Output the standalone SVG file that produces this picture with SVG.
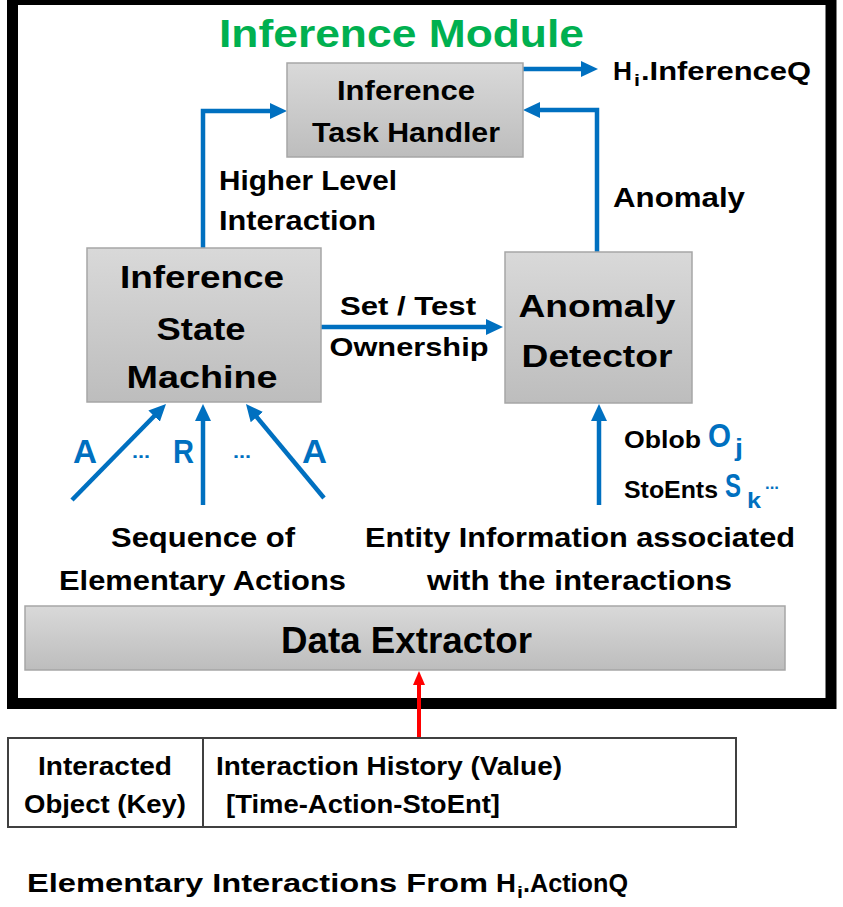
<svg xmlns="http://www.w3.org/2000/svg" width="843" height="907" viewBox="0 0 843 907">
<style>
text{font-family:"Liberation Sans",Arial,sans-serif;font-weight:bold;fill:#000}
.blue{fill:#0070C0}
.box{fill:url(#g);stroke:#a6a6a6;stroke-width:1.5}
.c{fill:none;stroke:#0070C0;stroke-width:4.5}
</style>
<defs>
<linearGradient id="g" x1="0" y1="0" x2="0" y2="1">
<stop offset="0" stop-color="#d9d9d9"/>
<stop offset="1" stop-color="#bdbdbd"/>
</linearGradient>
<marker id="ab" markerUnits="userSpaceOnUse" markerWidth="18" markerHeight="16" refX="9" refY="8" orient="auto">
<path d="M0,0 L17,8 L0,16 Z" fill="#0070C0"/>
</marker>
<marker id="ar" markerUnits="userSpaceOnUse" markerWidth="14" markerHeight="12" refX="7" refY="6" orient="auto">
<path d="M0,0 L14,6 L0,12 Z" fill="#ff0000"/>
</marker>
</defs>
<rect width="843" height="907" fill="#fff"/>
<rect x="12.5" y="-0.5" width="818.5" height="704" fill="none" stroke="#000" stroke-width="11"/>
<text x="219" y="47" font-size="38" textLength="365" lengthAdjust="spacingAndGlyphs" style="fill:#00B050">Inference Module</text>

<g id="connectors">
<line class="c" x1="523" y1="69" x2="590" y2="69" marker-end="url(#ab)"/>
<polyline class="c" points="203,248 203,111 279,111" marker-end="url(#ab)"/>
<polyline class="c" points="597,252 597,110 531,110" marker-end="url(#ab)"/>
<line class="c" x1="321" y1="327" x2="495" y2="327" marker-end="url(#ab)"/>
<line class="c" x1="72" y1="500" x2="160.4" y2="409.7" marker-end="url(#ab)"/>
<line class="c" x1="203" y1="505" x2="203" y2="412" marker-end="url(#ab)"/>
<line class="c" x1="324" y1="498" x2="251.1" y2="410.2" marker-end="url(#ab)"/>
<line class="c" x1="599" y1="505" x2="599" y2="412" marker-end="url(#ab)"/>
<line x1="419" y1="738" x2="419" y2="678" stroke="#ff0000" stroke-width="4" marker-end="url(#ar)"/>
</g>

<g id="task-handler">
<rect class="box" x="287" y="63" width="236" height="94"/>
<text x="406" y="100" font-size="28" text-anchor="middle" textLength="138" lengthAdjust="spacingAndGlyphs">Inference</text>
<text x="406" y="142" font-size="28" text-anchor="middle" textLength="188" lengthAdjust="spacingAndGlyphs">Task Handler</text>
</g>

<g id="inferenceq">
<text x="613" y="80" font-size="26" textLength="19" lengthAdjust="spacingAndGlyphs">H</text>
<text x="634" y="86" font-size="16" textLength="6" lengthAdjust="spacingAndGlyphs">i</text>
<text x="641" y="80" font-size="26" textLength="170" lengthAdjust="spacingAndGlyphs">.InferenceQ</text>
</g>

<g id="labels-top">
<text x="219" y="190" font-size="27" textLength="178" lengthAdjust="spacingAndGlyphs">Higher Level</text>
<text x="219" y="230" font-size="27" textLength="157" lengthAdjust="spacingAndGlyphs">Interaction</text>
<text x="613" y="207" font-size="27" textLength="132" lengthAdjust="spacingAndGlyphs">Anomaly</text>
</g>

<g id="state-machine">
<rect class="box" x="87" y="248" width="234" height="154"/>
<text x="202" y="288" font-size="31" text-anchor="middle" textLength="164" lengthAdjust="spacingAndGlyphs">Inference</text>
<text x="201" y="340" font-size="31" text-anchor="middle" textLength="89" lengthAdjust="spacingAndGlyphs">State</text>
<text x="202" y="388" font-size="31" text-anchor="middle" textLength="151" lengthAdjust="spacingAndGlyphs">Machine</text>
</g>

<g id="anomaly-detector">
<rect class="box" x="505" y="252" width="187" height="151"/>
<text x="597" y="317" font-size="31" text-anchor="middle" textLength="157" lengthAdjust="spacingAndGlyphs">Anomaly</text>
<text x="597" y="367" font-size="31" text-anchor="middle" textLength="151" lengthAdjust="spacingAndGlyphs">Detector</text>
</g>

<g id="set-test-label">
<text x="408" y="315" font-size="26" text-anchor="middle" textLength="136" lengthAdjust="spacingAndGlyphs">Set / Test</text>
<text x="409" y="356" font-size="26" text-anchor="middle" textLength="159" lengthAdjust="spacingAndGlyphs">Ownership</text>
</g>

<g id="action-labels">
<text class="blue" x="73" y="463" font-size="34" textLength="24" lengthAdjust="spacingAndGlyphs">A</text>
<text class="blue" x="132" y="458" font-size="18" textLength="18" lengthAdjust="spacingAndGlyphs">...</text>
<text class="blue" x="173" y="463" font-size="34" textLength="21" lengthAdjust="spacingAndGlyphs">R</text>
<text class="blue" x="233" y="458" font-size="18" textLength="18" lengthAdjust="spacingAndGlyphs">...</text>
<text class="blue" x="302" y="463" font-size="34" textLength="25" lengthAdjust="spacingAndGlyphs">A</text>
</g>

<g id="entity-labels">
<text x="624" y="448" font-size="24" textLength="77" lengthAdjust="spacingAndGlyphs">Oblob</text>
<text class="blue" x="708" y="447" font-size="33" textLength="23" lengthAdjust="spacingAndGlyphs">O</text>
<text class="blue" x="735" y="456" font-size="24" textLength="8" lengthAdjust="spacingAndGlyphs">j</text>
<text x="624" y="498" font-size="24" textLength="94" lengthAdjust="spacingAndGlyphs">StoEnts</text>
<text class="blue" x="725" y="497" font-size="33" textLength="16" lengthAdjust="spacingAndGlyphs">S</text>
<text class="blue" x="747" y="508" font-size="22" textLength="14" lengthAdjust="spacingAndGlyphs">k</text>
<text class="blue" x="765" y="489" font-size="16" textLength="14" lengthAdjust="spacingAndGlyphs">...</text>
</g>

<g id="sequence-label">
<text x="111" y="547" font-size="28" textLength="184" lengthAdjust="spacingAndGlyphs">Sequence of</text>
<text x="59" y="590" font-size="28" textLength="287" lengthAdjust="spacingAndGlyphs">Elementary Actions</text>
</g>

<g id="entity-info-label">
<text x="365" y="547" font-size="28" textLength="430" lengthAdjust="spacingAndGlyphs">Entity Information associated</text>
<text x="427" y="590" font-size="28" textLength="305" lengthAdjust="spacingAndGlyphs">with the interactions</text>
</g>

<g id="data-extractor">
<rect class="box" x="25" y="606" width="760" height="64"/>
<text x="281" y="653" font-size="36" textLength="251" lengthAdjust="spacingAndGlyphs">Data Extractor</text>
</g>

<g id="history-table">
<rect x="8" y="738" width="728" height="89" fill="#fff" stroke="#404040" stroke-width="2"/>
<line x1="203" y1="738" x2="203" y2="827" stroke="#404040" stroke-width="2"/>
<text x="38" y="775" font-size="25" textLength="134" lengthAdjust="spacingAndGlyphs">Interacted</text>
<text x="24" y="813" font-size="25" textLength="162" lengthAdjust="spacingAndGlyphs">Object (Key)</text>
<text x="216" y="775" font-size="25" textLength="346" lengthAdjust="spacingAndGlyphs">Interaction History (Value)</text>
<text x="226" y="813" font-size="25" textLength="274" lengthAdjust="spacingAndGlyphs">[Time-Action-StoEnt]</text>
</g>

<g id="caption">
<text x="27" y="892" font-size="26" textLength="461" lengthAdjust="spacingAndGlyphs">Elementary Interactions From</text>
<text x="496" y="892" font-size="26" textLength="20" lengthAdjust="spacingAndGlyphs">H</text>
<text x="517" y="898" font-size="16" textLength="6" lengthAdjust="spacingAndGlyphs">i</text>
<text x="523" y="892" font-size="26" textLength="105" lengthAdjust="spacingAndGlyphs">.ActionQ</text>
</g>
</svg>
